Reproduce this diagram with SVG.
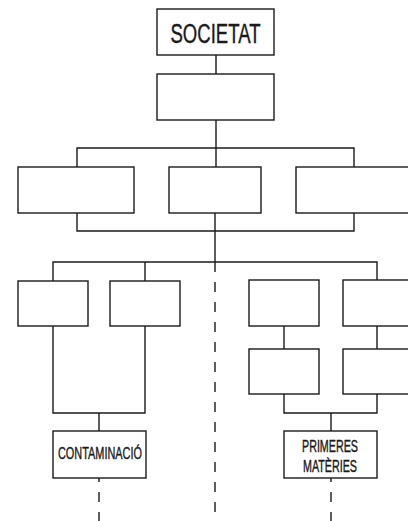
<svg xmlns="http://www.w3.org/2000/svg" width="408" height="521" viewBox="0 0 408 521">
<style>
.box{fill:#fff;stroke:#1a1a1a;stroke-width:1.4}
.ln{fill:none;stroke:#1a1a1a;stroke-width:1.4}
.dash{fill:none;stroke:#1a1a1a;stroke-width:1.4;stroke-dasharray:10 10}
text{font-family:"Liberation Sans",Arial,sans-serif;fill:#1a1a1a;stroke:#1a1a1a;stroke-width:0.4;text-anchor:middle}
</style>
<rect width="408" height="521" fill="#fff"/>
<g id="connectors">
<path class="ln" d="M216,55V74M216,120V167M215,213V262M77,167V148H354V167M77,213V231H354V213"/>
<path class="ln" d="M53,281V262H377V280M145,281V262M53,326V413H145V326M99,413V431"/>
<path class="ln" d="M284,326V349M377,326V349M284,394V413H377V394M331,413V431"/>
<path class="dash" d="M215,262V521"/>
<path class="dash" stroke-dashoffset="6" d="M99,478V521M331,478V521"/>
</g>
<g id="societat"><rect class="box" x="157" y="9" width="117" height="46"/><text x="215.5" y="42.5" font-size="27" textLength="90" lengthAdjust="spacingAndGlyphs">SOCIETAT</text></g>
<g id="n2"><rect class="box" x="157" y="74" width="117" height="46"/></g>
<g id="n3a"><rect class="box" x="18" y="167" width="116" height="46"/></g>
<g id="n3b"><rect class="box" x="169" y="167" width="92" height="46"/></g>
<g id="n3c"><rect class="box" x="296" y="167" width="120" height="46"/></g>
<g id="n4a"><rect class="box" x="18" y="281" width="70" height="45"/></g>
<g id="n4b"><rect class="box" x="110" y="281" width="70" height="45"/></g>
<g id="n4c"><rect class="box" x="249" y="280" width="70" height="46"/></g>
<g id="n4d"><rect class="box" x="343" y="280" width="70" height="46"/></g>
<g id="n5c"><rect class="box" x="249" y="349" width="70" height="45"/></g>
<g id="n5d"><rect class="box" x="343" y="349" width="70" height="45"/></g>
<g id="contaminacio"><rect class="box" x="53" y="431" width="93" height="47"/><text x="100" y="459" font-size="17" textLength="84" lengthAdjust="spacingAndGlyphs">CONTAMINACIÓ</text></g>
<g id="primeres"><rect class="box" x="284" y="431" width="93" height="47"/><text x="330" y="452" font-size="17" textLength="56" lengthAdjust="spacingAndGlyphs">PRIMERES</text><text x="330" y="472" font-size="17" textLength="54" lengthAdjust="spacingAndGlyphs">MATÈRIES</text></g>
</svg>
